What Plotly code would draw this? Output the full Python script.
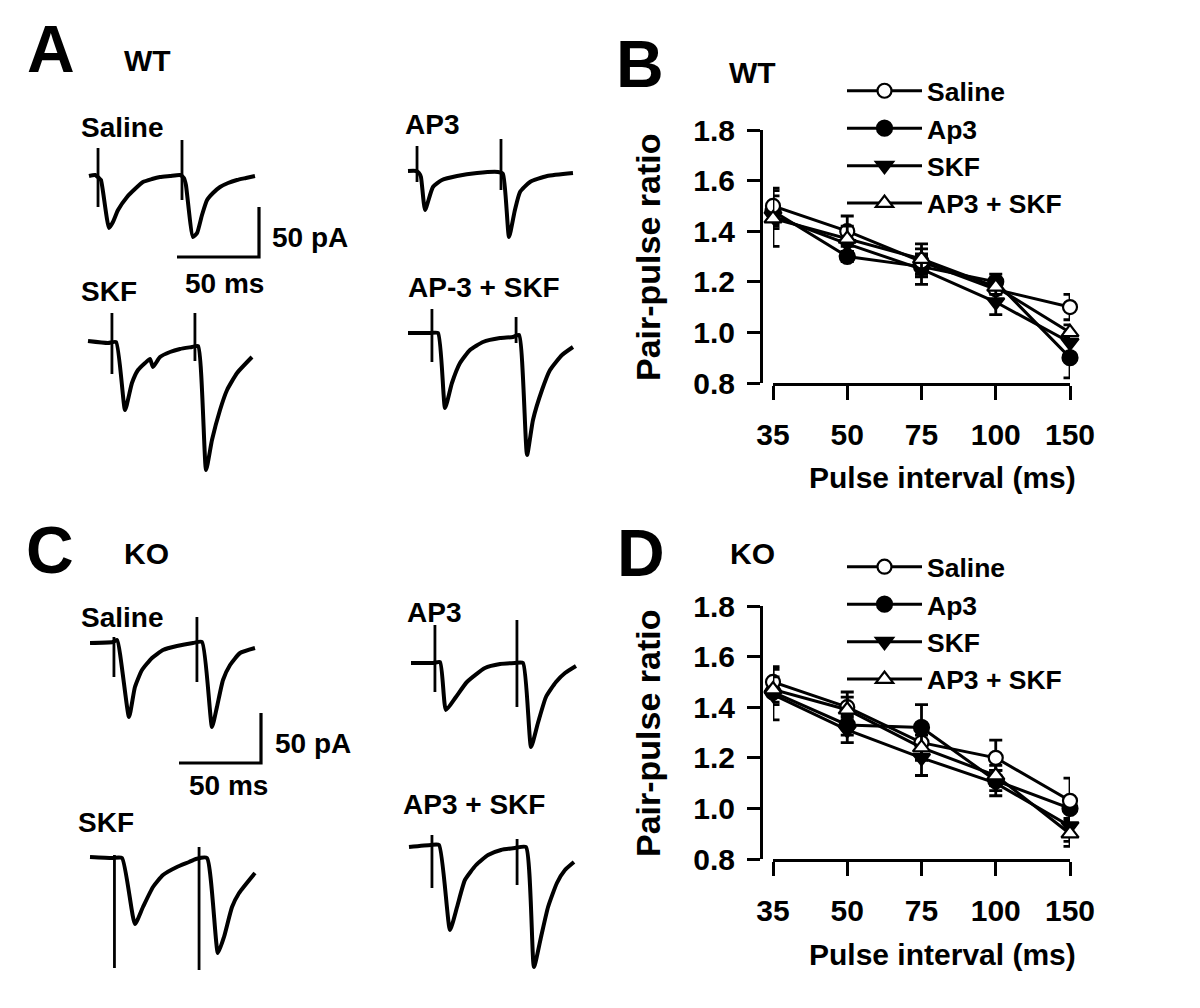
import plotly.graph_objects as go

W, H = 1200, 1008
FONT = "Liberation Sans, Arial, sans-serif"

# ---------------- data: paired-pulse ratio (panels B and D) ----------------
intervals = ["35", "50", "75", "100", "150"]
series_names = ["Saline", "Ap3", "SKF", "AP3 + SKF"]

wt_saline = [1.50, 1.40, 1.28, 1.17, 1.10]
wt_saline_err = [0.07, 0.06, 0.05, 0.04, 0.05]
wt_ap3 = [1.48, 1.30, 1.26, 1.20, 0.90]
wt_ap3_err = [0.06, 0.02, 0.04, 0.03, 0.08]
wt_skf = [1.46, 1.35, 1.25, 1.12, 0.96]
wt_skf_err = [0.05, 0.04, 0.06, 0.05, 0.04]
wt_ap3skf = [1.45, 1.37, 1.29, 1.18, 1.00]
wt_ap3skf_err = [0.11, 0.05, 0.06, 0.03, 0.03]

ko_saline = [1.50, 1.40, 1.26, 1.20, 1.03]
ko_saline_err = [0.06, 0.06, 0.05, 0.07, 0.09]
ko_ap3 = [1.46, 1.33, 1.32, 1.11, 1.00]
ko_ap3_err = [0.05, 0.04, 0.09, 0.04, 0.04]
ko_skf = [1.45, 1.31, 1.20, 1.10, 0.93]
ko_skf_err = [0.10, 0.05, 0.07, 0.05, 0.06]
ko_ap3skf = [1.47, 1.39, 1.24, 1.13, 0.90]
ko_ap3skf_err = [0.05, 0.05, 0.05, 0.04, 0.05]

y_ticks = [0.8, 1.0, 1.2, 1.4, 1.6, 1.8]

# ---------------- data: example EPSC traces (panels A and C), ms / pA ----------------
wt_saline_t = [0, 3.7, 6.1, 7.3, 12.2, 14.6, 17.7, 23.2, 28, 32.9, 38.4, 43.3, 49.4, 55.5, 57.9, 59.1, 63.4, 65.9, 68.9, 72, 75.6, 79.9, 84.8, 90.2, 95.7, 101.2]
wt_saline_i = [0, 1, -2, -4, -52, -46, -34, -21, -13, -6, -3, -1, 0, 1, -2, -9, -61, -57, -39, -24, -17, -11, -7, -4, -2, 0]
wt_saline_art = [(5.5, 28, -31), (56.7, 36, -24)]

wt_ap3_t = [0, 4.9, 6.7, 7.9, 10.4, 15.2, 20.7, 29.9, 42.1, 54.9, 57.9, 61.6, 65.2, 68.3, 74.4, 84.8, 100.6]
wt_ap3_i = [0, 0, -2, -6, -39, -16, -9, -5, -2, -1, -3, -66, -39, -21, -11, -5, -2]
wt_ap3_art = [(5.5, 25, -11), (56.7, 32, -19)]

wt_skf_t = [0, 12.2, 17.1, 22.6, 26.8, 30.5, 34.8, 37.8, 39.6, 43.9, 50, 56.1, 63.4, 67.1, 72, 75.6, 80.5, 84.8, 90.9, 100]
wt_skf_i = [0, -2, -1, -69, -42, -29, -22, -18, -26, -16, -11, -8, -6, -5, -129, -99, -69, -49, -32, -16]
wt_skf_art = [(14.6, 28, -33), (65.2, 28, -20)]

wt_ap3skf_t = [0, 13.4, 18.3, 22.6, 26.8, 31.7, 37.8, 45.7, 56.1, 64, 67.7, 72.6, 76.2, 81.7, 86.6, 93.9, 100.6]
wt_ap3skf_i = [0, 0, 0, -75, -50, -30, -17, -9, -5, -4, -2, -122, -87, -57, -37, -22, -14]
wt_ap3skf_art = [(14.6, 24, -29), (65.9, 16, -10)]

ko_saline_t = [0, 14, 16.5, 23.8, 27.4, 31.7, 37.8, 44.5, 53, 62.8, 68.3, 74.4, 77.4, 81.1, 85.4, 91.5, 100.6]
ko_saline_i = [0, 1, 3, -74, -44, -27, -15, -7, -3, 0, 1, -84, -64, -37, -22, -10, -5]
ko_saline_art = [(14.6, 6, -34), (65.2, 26, -39)]

ko_ap3_t = [0, 13.4, 17.7, 21.3, 27.4, 34.1, 45.1, 54.3, 63.4, 68.3, 73.2, 77.4, 82.3, 88.4, 93.9, 100.6]
ko_ap3_i = [0, 0, 1, -47, -34, -19, -5, -1, 0, 0, -84, -60, -34, -19, -10, -3]
ko_ap3_art = [(14.6, 38, -29), (64.6, 43, -44)]

ko_skf_t = [0, 13.4, 19.5, 27.4, 32.3, 38.4, 44.5, 53, 60.4, 64.6, 71.3, 78, 81.7, 86.6, 90.9, 100.6]
ko_skf_i = [0, -1, -1, -67, -50, -30, -18, -10, -5, -2, -1, -96, -80, -50, -36, -16]
ko_skf_art = [(14.9, 2, -111), (66.5, 10, -113)]

ko_ap3skf_t = [0, 13.4, 18.3, 25, 29.3, 34.1, 40.9, 48.2, 56.1, 64.6, 71.3, 76.2, 80.5, 84.8, 90.2, 95.1, 100.6]
ko_ap3skf_i = [0, 2, 2, -83, -60, -33, -18, -8, -3, -1, 0, -120, -90, -60, -36, -23, -15]
ko_ap3skf_art = [(14, 12, -41), (65.9, 8, -38)]

scale_ms = 50
scale_pa = 50

# ---------------- layout constants ----------------
PX_PER_MS = 82 / 50.0   # from the 50 ms scale bar
PX_PER_PA = 1.0         # from the 50 pA scale bar

def px2ms(px):
    return px / PX_PER_MS

def py2pa(py):
    return -py / PX_PER_PA

fig = go.Figure()

# ---------- trace panels ----------
def add_trace_panel(t, i, arts, x0, y0):
    toff, ioff = px2ms(x0), py2pa(y0)
    fig.add_trace(go.Scatter(
        x=[v + toff for v in t], y=[v + ioff for v in i],
        mode="lines", line=dict(color="black", width=4, shape="spline", smoothing=0.5),
        xaxis="x3", yaxis="y3", showlegend=False, hoverinfo="skip"))
    ax, ay = [], []
    for (ta, top, bot) in arts:
        ax += [ta + toff, ta + toff, None]
        ay += [top + ioff, bot + ioff, None]
    fig.add_trace(go.Scatter(x=ax, y=ay, mode="lines", line=dict(color="black", width=2.8),
                             xaxis="x3", yaxis="y3", showlegend=False, hoverinfo="skip"))

def add_scalebar(xc, yc):
    tc, ic = px2ms(xc), py2pa(yc)
    fig.add_trace(go.Scatter(x=[tc - scale_ms, tc, tc], y=[ic, ic, ic + scale_pa],
                             mode="lines", line=dict(color="black", width=3.2),
                             xaxis="x3", yaxis="y3", showlegend=False, hoverinfo="skip"))

add_trace_panel(wt_saline_t, wt_saline_i, wt_saline_art, 89, 176)
add_trace_panel(wt_ap3_t, wt_ap3_i, wt_ap3_art, 408, 171)
add_trace_panel(wt_skf_t, wt_skf_i, wt_skf_art, 88, 341)
add_trace_panel(wt_ap3skf_t, wt_ap3skf_i, wt_ap3skf_art, 408, 333)
add_trace_panel(ko_saline_t, ko_saline_i, ko_saline_art, 90, 643)
add_trace_panel(ko_ap3_t, ko_ap3_i, ko_ap3_art, 411, 663)
add_trace_panel(ko_skf_t, ko_skf_i, ko_skf_art, 90, 857)
add_trace_panel(ko_ap3skf_t, ko_ap3skf_i, ko_ap3skf_art, 409, 847)
add_scalebar(259, 257)
add_scalebar(261, 763)

# ---------- PPR panels ----------
styles = {
    "Saline": dict(symbol="circle", color="white", size=14),
    "Ap3": dict(symbol="circle", color="black", size=15),
    "SKF": dict(symbol="triangle-down", color="black", size=15),
    "AP3 + SKF": dict(symbol="triangle-up", color="white", size=15),
}
draw_order = ["Ap3", "SKF", "Saline", "AP3 + SKF"]
xs = list(range(len(intervals)))

def add_ppr(data, xa, ya, legend):
    for name in draw_order:
        vals, errs = data[name]
        st = styles[name]
        fig.add_trace(go.Scatter(
            x=xs, y=vals, name=name, mode="lines+markers",
            error_y=dict(type="data", array=errs, color="black", thickness=2.8, width=6.5),
            line=dict(color="black", width=3),
            marker=dict(symbol=st["symbol"], size=st["size"], color=st["color"],
                        line=dict(color="black", width=2.2)),
            xaxis=xa, yaxis=ya, legend=legend, legendrank=series_names.index(name) + 1,
            cliponaxis=False))

add_ppr({"Saline": (wt_saline, wt_saline_err), "Ap3": (wt_ap3, wt_ap3_err),
         "SKF": (wt_skf, wt_skf_err), "AP3 + SKF": (wt_ap3skf, wt_ap3skf_err)},
        "x", "y", "legend")
add_ppr({"Saline": (ko_saline, ko_saline_err), "Ap3": (ko_ap3, ko_ap3_err),
         "SKF": (ko_skf, ko_skf_err), "AP3 + SKF": (ko_ap3skf, ko_ap3skf_err)},
        "x2", "y2", "legend2")

bold = lambda s: dict(family=FONT, size=s, color="black", weight="bold")

def xax(anchor):
    return dict(domain=[773 / W, 1070 / W], range=[0, 4], anchor=anchor,
                tickmode="array", tickvals=xs, ticktext=intervals,
                showline=True, linewidth=3, linecolor="black", ticks="outside",
                ticklen=14, tickwidth=3, tickcolor="black", tickfont=bold(30),
                ticklabelstandoff=9, showgrid=False, zeroline=False, automargin=False)

def yax(top_px, bot_px):
    return dict(domain=[1 - bot_px / H, 1 - top_px / H], range=[0.8, 1.8], anchor="free",
                position=761 / W, tickmode="array", tickvals=y_ticks,
                ticktext=[f"{v:.1f}" for v in y_ticks],
                showline=True, linewidth=3, linecolor="black", ticks="outside",
                ticklen=13, tickwidth=3, tickcolor="black", tickfont=bold(30),
                ticklabelstandoff=6, showgrid=False, zeroline=False, automargin=False)

def leg(top_px):
    return dict(x=842 / W, y=1 - top_px / H, xanchor="left", yanchor="top",
                font=bold(26.5), itemwidth=75, bgcolor="rgba(0,0,0,0)",
                tracegroupgap=0, itemclick=False)

annotations = []
def ann(text, px, py, size, angle=0):
    annotations.append(dict(text=text, x=px / W, y=1 - py / H, xref="paper", yref="paper",
                            showarrow=False, font=bold(size), xanchor="center",
                            yanchor="middle", textangle=angle))

ann("A", 51, 49, 66)
ann("WT", 147, 60, 30)
ann("Saline", 122, 127, 28)
ann("AP3", 432, 124, 28)
ann("SKF", 109, 291, 28)
ann("AP-3 + SKF", 484, 287, 28)
ann("50 pA", 310, 237, 28)
ann("50 ms", 224, 283, 28)

ann("C", 50, 550, 66)
ann("KO", 146, 553, 30)
ann("Saline", 122, 617, 28)
ann("AP3", 434, 612, 28)
ann("SKF", 106, 822, 28)
ann("AP3 + SKF", 474, 804, 28)
ann("50 pA", 313, 743, 28)
ann("50 ms", 228, 785, 28)

ann("B", 640, 64, 66)
ann("WT", 752, 73, 30)
ann("D", 641, 553, 66)
ann("KO", 752, 553, 30)

for (ty, ly) in [(477, 257), (954, 733)]:
    ann("Pulse interval (ms)", 942, ty, 30)
    ann("Pair-pulse ratio", 648, ly, 34, angle=-90)

fig.update_layout(
    template="none",
    width=W, height=H, margin=dict(l=0, r=0, t=0, b=0, pad=0, autoexpand=False),
    paper_bgcolor="white", plot_bgcolor="rgba(0,0,0,0)",
    font=dict(family=FONT, color="black"),
    xaxis=xax("y"), yaxis=yax(130, 383),
    xaxis2=xax("y2"), yaxis2=yax(606, 859),
    xaxis3=dict(domain=[0, 1], range=[0, px2ms(W)], anchor="y3", visible=False, automargin=False),
    yaxis3=dict(domain=[0, 1], range=[py2pa(H), 0], anchor="x3", visible=False, automargin=False),
    legend=leg(67), legend2=leg(543),
    annotations=annotations,
    showlegend=True,
)

fig.write_html("out.html", config={"displayModeBar": False},
               post_script="document.body.style.margin='0';")
